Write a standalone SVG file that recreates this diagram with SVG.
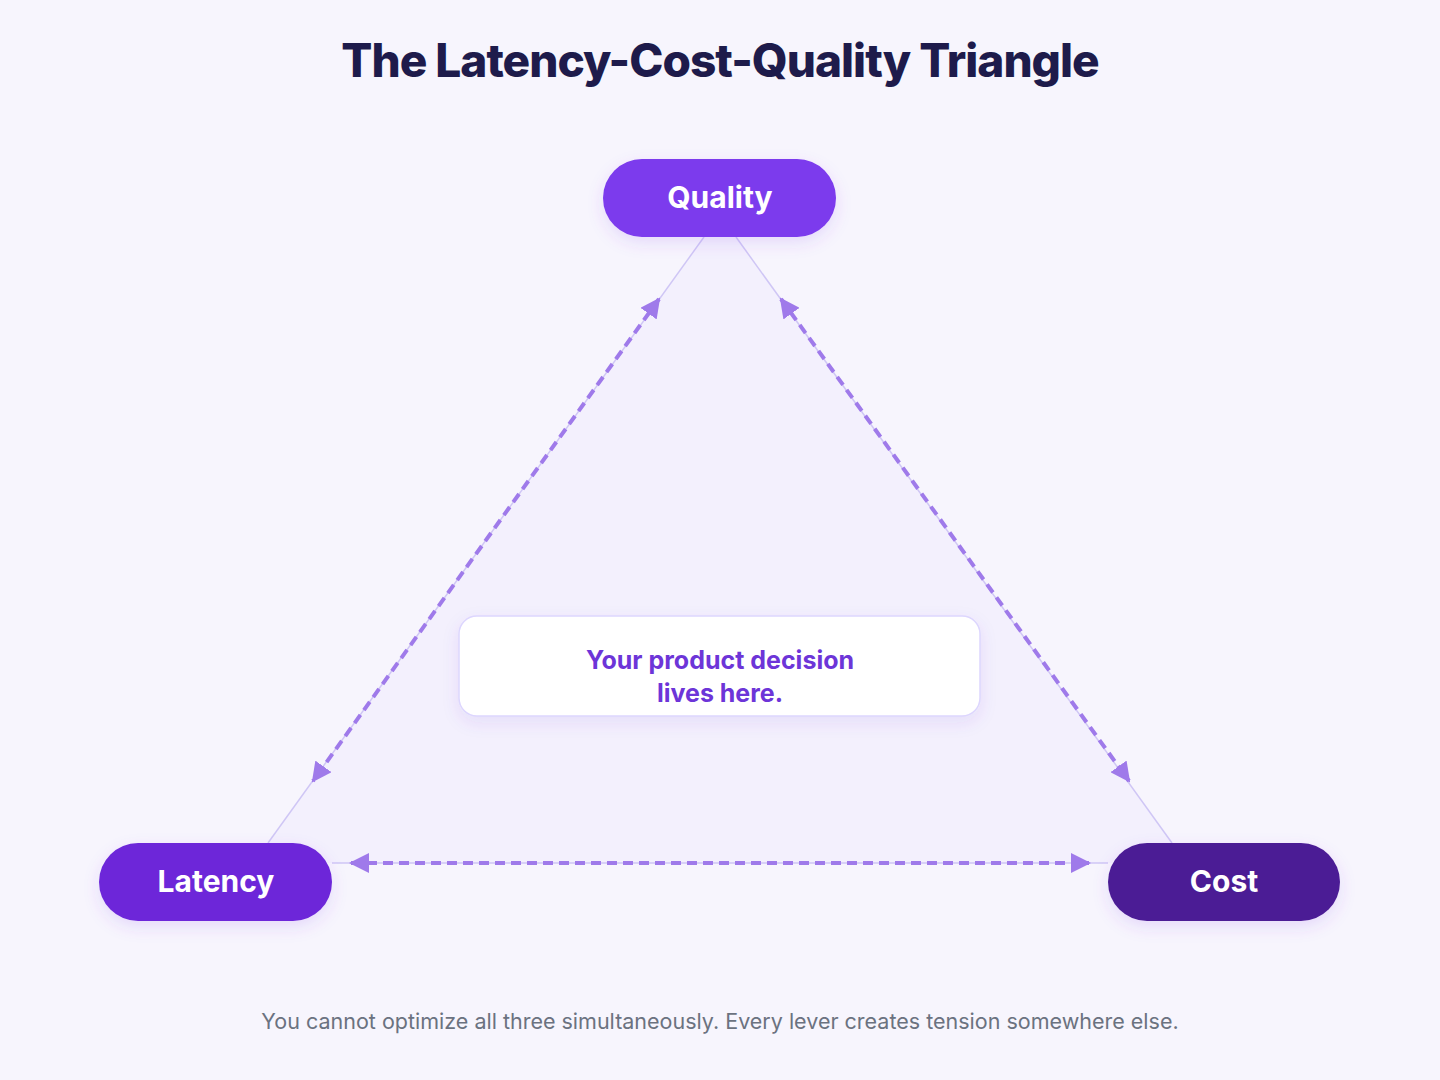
<svg xmlns="http://www.w3.org/2000/svg" width="1440" height="1080" viewBox="0 0 1440 1080">
<defs>
<style>
.title{font-family:Inter,"Liberation Sans",sans-serif;font-weight:800;font-size:46px;fill:#1e1b4b;letter-spacing:-1px}
.ntext{font-family:Inter,"Liberation Sans",sans-serif;font-weight:700;font-size:30px;fill:#ffffff}
.ctext{font-family:Inter,"Liberation Sans",sans-serif;font-weight:700;font-size:25px;fill:#6d35d8}
.foot{font-family:Inter,"Liberation Sans",sans-serif;font-weight:400;font-size:21.5px;fill:#6b7280}
.edge{stroke:#cfc6f5;stroke-width:1.5;fill:none}
.dash{stroke:#9f7aea;stroke-width:4;stroke-dasharray:10 6;fill:none}
</style>
<marker id="arr" viewBox="0 0 10 10" refX="9" refY="5" markerWidth="5" markerHeight="5" orient="auto-start-reverse" markerUnits="strokeWidth">
<path d="M0,0 L10,5 L0,10 z" fill="#9f7aea"/>
</marker>
<filter id="sh" x="-30%" y="-40%" width="160%" height="200%">
<feDropShadow dx="0" dy="6" stdDeviation="8" flood-color="#7c3aed" flood-opacity="0.15"/>
</filter>
<filter id="sh2" x="-10%" y="-30%" width="120%" height="170%">
<feDropShadow dx="0" dy="6" stdDeviation="8" flood-color="#6d28d9" flood-opacity="0.10"/>
</filter>
</defs>
<rect width="1440" height="1080" fill="#f7f5fd"/>
<polygon points="720,215 254,863 1186,863" fill="#f3f0fd"/>
<text class="title" x="720" y="77" text-anchor="middle">The Latency-Cost-Quality Triangle</text>
<g id="connectors">
<line class="edge" x1="704" y1="237" x2="268" y2="843"/>
<line class="edge" x1="736" y1="237" x2="1172" y2="843"/>
<line class="edge" x1="332" y1="863" x2="1108" y2="863"/>
<line class="dash" x1="659" y1="299" x2="313" y2="781" marker-start="url(#arr)" marker-end="url(#arr)"/>
<line class="dash" x1="781" y1="299" x2="1129" y2="781" marker-start="url(#arr)" marker-end="url(#arr)"/>
<line class="dash" x1="351" y1="863" x2="1089" y2="863" marker-start="url(#arr)" marker-end="url(#arr)"/>
</g>
<g id="center">
<rect x="459" y="616" width="521" height="100" rx="18" fill="#ffffff" stroke="#ddd6fe" stroke-width="1.5" filter="url(#sh2)"/>
<text class="ctext" x="720" y="669" text-anchor="middle">Your product decision</text>
<text class="ctext" x="720" y="702" text-anchor="middle">lives here.</text>
</g>
<g id="quality">
<rect x="603" y="159" width="233" height="78" rx="39" fill="#7c3aed" filter="url(#sh)"/>
<text class="ntext" x="720" y="208" text-anchor="middle">Quality</text>
</g>
<g id="latency">
<rect x="99" y="843" width="233" height="78" rx="39" fill="#6d28d9" filter="url(#sh)"/>
<text class="ntext" x="216" y="892" text-anchor="middle">Latency</text>
</g>
<g id="cost">
<rect x="1108" y="843" width="232" height="78" rx="39" fill="#4c1d95" filter="url(#sh)"/>
<text class="ntext" x="1224" y="892" text-anchor="middle">Cost</text>
</g>
<text class="foot" x="720" y="1029" text-anchor="middle">You cannot optimize all three simultaneously. Every lever creates tension somewhere else.</text>
</svg>
